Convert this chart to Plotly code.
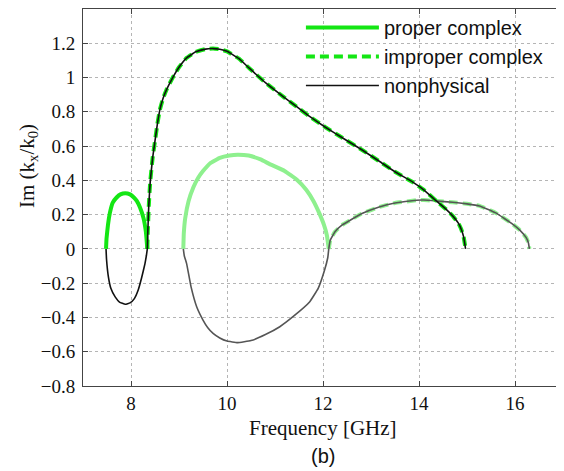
import plotly.graph_objects as go

# ---- data ----
# small loop (first mode): proper complex upper half, nonphysical lower half
loop1_f_top = [7.48, 7.49, 7.52, 7.56, 7.62, 7.70, 7.78, 7.88, 7.98, 8.06, 8.12, 8.19, 8.26, 8.31, 8.34]
loop1_top = [0.0, 0.06, 0.14, 0.21, 0.27, 0.30, 0.318, 0.325, 0.318, 0.30, 0.28, 0.24, 0.18, 0.10, 0.0]
loop1_f_bot = [7.48, 7.49, 7.53, 7.58, 7.67, 7.76, 7.88, 7.98, 8.07, 8.15, 8.22, 8.29, 8.32, 8.34]
loop1_bot = [0.0, -0.06, -0.165, -0.23, -0.28, -0.31, -0.323, -0.315, -0.29, -0.24, -0.17, -0.087, -0.04, 0.0]

# large arch (first mode): improper complex with nonphysical overlay
big_f = [8.34, 8.35, 8.37, 8.40, 8.45, 8.50, 8.55, 8.60, 8.67, 8.75, 8.87, 9.00, 9.16, 9.35,
         9.55, 9.71, 9.85, 10.00, 10.25, 10.47, 10.80, 11.17, 11.45, 11.72, 12.05, 12.41,
         12.80, 13.18, 13.50, 13.87, 14.10, 14.36, 14.55, 14.71, 14.82, 14.88, 14.93, 14.97]
big_y = [0.0, 0.10, 0.25, 0.39, 0.53, 0.63, 0.73, 0.81, 0.88, 0.935, 1.00, 1.06, 1.115, 1.15,
         1.166, 1.169, 1.165, 1.153, 1.11, 1.053, 0.97, 0.889, 0.83, 0.773, 0.71, 0.647,
         0.58, 0.51, 0.45, 0.39, 0.345, 0.28, 0.235, 0.19, 0.15, 0.115, 0.07, 0.0]

# middle loop (second mode, pale colours)
mid_f_top = [9.09, 9.10, 9.13, 9.20, 9.30, 9.40, 9.50, 9.65, 9.85, 10.05, 10.22, 10.45, 10.70,
             10.89, 11.20, 11.45, 11.65, 11.80, 11.92, 12.02, 12.08, 12.12]
mid_top = [0.0, 0.09, 0.18, 0.28, 0.36, 0.415, 0.454, 0.50, 0.531, 0.545, 0.55, 0.545, 0.522,
           0.495, 0.455, 0.405, 0.345, 0.28, 0.21, 0.14, 0.08, 0.0]
mid_f_bot = [9.09, 9.11, 9.16, 9.25, 9.37, 9.50, 9.60, 9.71, 9.85, 10.00, 10.22, 10.50, 10.80,
             11.10, 11.40, 11.72, 11.90, 12.03, 12.10, 12.12]
mid_bot = [0.0, -0.04, -0.087, -0.22, -0.339, -0.415, -0.46, -0.493, -0.52, -0.538, -0.547,
           -0.535, -0.50, -0.454, -0.39, -0.31, -0.23, -0.126, -0.05, 0.0]

# right arc (second mode): improper complex with nonphysical overlay, pale colours
arc_f = [12.12, 12.15, 12.25, 12.40, 12.55, 12.80, 13.17, 13.50, 13.95, 14.10, 14.36, 14.70,
         15.00, 15.26, 15.60, 15.95, 16.10, 16.23, 16.28, 16.30]
arc_y = [0.0, 0.05, 0.10, 0.14, 0.165, 0.205, 0.245, 0.268, 0.284, 0.285, 0.28, 0.272,
         0.263, 0.251, 0.21, 0.145, 0.11, 0.067, 0.035, 0.0]

x_ticks = [8, 10, 12, 14, 16]
y_ticks = [-0.8, -0.6, -0.4, -0.2, 0, 0.2, 0.4, 0.6, 0.8, 1.0, 1.2]
y_ticktext = ["\u22120.8", "\u22120.6", "\u22120.4", "\u22120.2", "0", "0.2", "0.4", "0.6", "0.8", "1", "1.2"]

GREEN = "#14e614"
PALE_GREEN = "#8ef08e"
BLACK = "#111111"
GRAY = "#555555"
DASH = "9px,5px"

def ln(color, width, dash=None):
    d = dict(color=color, width=width, shape="spline", smoothing=0.3)
    if dash:
        d["dash"] = dash
    return d

fig = go.Figure()

# pale second mode
fig.add_trace(go.Scatter(x=mid_f_top, y=mid_top, mode="lines", line=ln(PALE_GREEN, 4),
                         showlegend=False, hoverinfo="skip"))
fig.add_trace(go.Scatter(x=mid_f_bot, y=mid_bot, mode="lines", line=ln(GRAY, 1.6),
                         showlegend=False, hoverinfo="skip"))
fig.add_trace(go.Scatter(x=arc_f, y=arc_y, mode="lines", line=ln(PALE_GREEN, 4, DASH),
                         showlegend=False, hoverinfo="skip"))
fig.add_trace(go.Scatter(x=arc_f, y=arc_y, mode="lines", line=ln(GRAY, 1.6),
                         showlegend=False, hoverinfo="skip"))

# first mode
fig.add_trace(go.Scatter(x=loop1_f_top, y=loop1_top, mode="lines", line=ln(GREEN, 4),
                         name="proper complex", showlegend=True))
fig.add_trace(go.Scatter(x=big_f, y=big_y, mode="lines", line=ln(GREEN, 4, DASH),
                         name="improper complex", showlegend=True))
fig.add_trace(go.Scatter(x=big_f, y=big_y, mode="lines", line=ln(BLACK, 1.6),
                         name="nonphysical", showlegend=True))
fig.add_trace(go.Scatter(x=loop1_f_bot, y=loop1_bot, mode="lines", line=ln(BLACK, 1.6),
                         showlegend=False))

serif = "Liberation Serif"
sans = "Liberation Sans"

# the page body has an 8px margin, so the figure is sized to fit the window from there
fig.update_layout(
    width=556, height=463,
    margin=dict(l=75, r=1, t=0, b=85),
    paper_bgcolor="white", plot_bgcolor="white",
    showlegend=True,
    legend=dict(x=0.454, y=1.003, xanchor="left", yanchor="top",
                bgcolor="rgba(0,0,0,0)", borderwidth=0,
                font=dict(family=sans, size=20, color="#111"),
                itemwidth=73, tracegroupgap=0),
    xaxis=dict(range=[7, 17], tickvals=x_ticks, ticks="inside", ticklen=5, tickcolor="#444",
               showline=True, linecolor="#444", linewidth=1, mirror="ticks",
               showgrid=True, gridcolor="#b5b5b5", griddash="dot", gridwidth=1,
               zeroline=False, tickfont=dict(family=serif, size=19, color="#111")),
    yaxis=dict(range=[-0.8, 1.4], tickvals=y_ticks, ticktext=y_ticktext, ticks="inside", ticklen=5,
               tickcolor="#444", showline=True, linecolor="#444", linewidth=1, mirror="ticks",
               showgrid=True, gridcolor="#b5b5b5", griddash="dot", gridwidth=1,
               zeroline=False, tickfont=dict(family=serif, size=19, color="#111"),
               ticklabelstandoff=3),
    annotations=[
        dict(text="Frequency [GHz]", x=0.5, y=-0.111, xref="paper", yref="paper",
             xanchor="center", yanchor="middle", showarrow=False,
             font=dict(family=serif, size=21, color="#111")),
        dict(text="(b)", x=0.5, y=-0.187, xref="paper", yref="paper",
             xanchor="center", yanchor="middle", showarrow=False,
             font=dict(family=sans, size=20, color="#111")),
        dict(text="Im (k<sub>x</sub>/k<sub>0</sub>)", x=-0.115, y=0.583, xref="paper", yref="paper",
             xanchor="center", yanchor="middle", textangle=-90, showarrow=False,
             font=dict(family=serif, size=21, color="#111")),
    ],
)

fig.write_html("out.html")
